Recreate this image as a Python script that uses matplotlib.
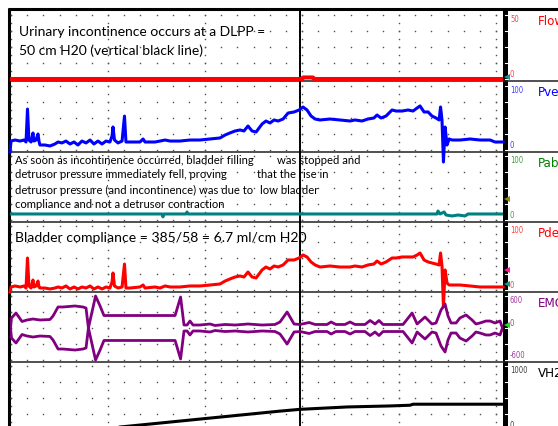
import numpy as np
import matplotlib
matplotlib.use("Agg")
import matplotlib.pyplot as plt
from matplotlib.patches import Rectangle

W, H = 558, 426

# time in seconds from start of filling study
t_leak = 178.7   # leak point (vertical black line)

flow_t = [-0.6, 180.0, 180.6, 186.8, 187.4, 304.4]
flow = [0, 0, 1.2, 1.2, 0, 0]

pres_t = [-0.6, 0.0, 2.5, 5.6, 8.0, 9.3, 10.2, 11.1, 12.4, 13.6, 14.2, 15.5, 16.7,
          17.3, 17.9, 21.0, 24.1, 27.2, 29.1, 31.5, 34.0, 36.5, 39.0, 41.4, 43.9,
          46.4, 48.9, 51.3, 53.8, 56.3, 58.8, 61.2, 62.5, 63.1, 64.0, 66.2, 68.7,
          70.2, 71.1, 73.6, 79.8, 81.7, 82.9, 89.1, 92.2, 95.3, 98.4, 104.5, 110.7,
          116.9, 123.1, 129.3, 132.4, 135.4, 138.6, 141.7, 144.1, 146.6, 149.1,
          151.6, 155.3, 157.7, 160.2, 162.7, 165.2, 168.3, 171.4, 175.1, 178.2,
          180.6, 183.1, 185.6, 188.1, 191.1, 197.3, 203.5, 209.7, 212.8, 217.1,
          220.8, 224.5, 226.4, 228.9, 232.0, 235.7, 238.2, 241.9, 245.6, 248.7,
          251.2, 253.0, 255.5, 258.0, 260.4, 262.9, 264.8, 265.7, 266.6, 267.5,
          268.5, 269.7, 271.0, 272.8, 277.8, 284.0, 290.1, 296.3, 299.4, 304.4]

pves = [-3, 14, 15.6, 14, 15.6, 12.5, 64, 15.6, 12.5, 26.6, 14, 15.6, 25,
        14, 7.8, 7.8, 6.3, 9.4, 12.5, 11, 14, 9.4, 12.5, 7.8, 14,
        11, 15.6, 9.4, 14, 9.4, 14, 12.5, 21.9, 36, 15.6, 11, 14,
        53, 12.5, 12.5, 12.5, 17.2, 12.5, 12.5, 14, 15.6, 14, 14, 15.6,
        15.6, 17.2, 18.8, 23.4, 26.6, 29.7, 31.3, 29.7, 37.5, 29.7,
        28.1, 40.6, 45.3, 42.2, 46.9, 45.3, 48.4, 57.8, 59.4, 62.5,
        67.2, 62.5, 53.1, 48.4, 46.9, 48.4, 46.9, 45.3, 46.9, 45.3,
        48.4, 50, 54.7, 50, 53.1, 62.5, 60.9, 60.9, 62.5, 60.9,
        65.6, 68.8, 59.4, 59.4, 53.1, 50, 46.9, 67.2, 46.9, -18.8,
        35.9, 7.8, 17.2, 15.6, 15.6, 17.2, 15.6, 15.6, 12.5, 12.5]

pdet = [-3, 4.7, 6.3, 4.7, 6.3, 3.1, 50, 6.3, 3.1, 15.6, 4.7, 6.3, 14,
        4.7, 3.1, 3.1, 1.6, 3.1, 4.7, 3.1, 6.3, 1.6, 4.7, 1.6, 4.7,
        3.1, 6.3, 1.6, 4.7, 1.6, 4.7, 3.1, 12.5, 26.6, 6.3, 3.1, 4.7,
        40.6, 3.1, 3.1, 4.7, 7.8, 3.1, 4.7, 3.1, 6.3, 4.7, 4.7, 6.3,
        6.3, 7.8, 9.4, 14, 17.2, 20.3, 21.9, 20.3, 28.1, 20.3,
        18.8, 31.3, 35.9, 32.8, 37.5, 35.9, 39.1, 46.9, 46.9, 50,
        54.7, 51.6, 43.8, 39.1, 35.9, 37.5, 35.9, 35.9, 37.5, 35.9,
        39.1, 40.6, 45.3, 40.6, 43.8, 50, 50, 51.6, 51.6, 51.6,
        54.7, 57.8, 46.9, 43.8, 42.2, 40.6, 39.1, 57.8, 37.5, -26.6,
        31.3, 10.9, 7.8, 7.8, 7.8, 6.3, 4.7, 4.7, 4.7, 4.7]

pabd_t = [-0.6, 93.4, 94.0, 94.6, 108.3, 108.9, 109.5, 263.5, 264.1, 265.4,
          267.9, 269.1, 272.8, 276.5, 280.9, 282.7, 304.4]
pabd = [9.4, 9.4, 5, 9.4, 9.4, 12.5, 9.4, 9.4, 14, 9.4,
        12.5, 7.8, 6.3, 7.8, 6.3, 9.4, 9.4]

# EMG envelope half-width (uV)
emg_t = [-0.3, 0.3, 3.1, 6.8, 9.9, 13.6, 17.9, 24.1, 26.0, 29.1, 32.2, 39.6,
         44.5, 46.4, 47.9, 52.3, 55.1, 57.5, 79.8, 101.5, 104.9, 107.0, 108.9,
         110.7, 112.6, 116.9, 123.1, 126.2, 132.4, 138.6, 146.6, 155.3, 163.3,
         166.4, 170.8, 175.1, 178.8, 184.4, 188.1, 195.5, 198.0, 201.0, 206.6,
         209.7, 212.8, 219.0, 222.1, 225.2, 227.6, 230.1, 242.5, 248.1, 251.2,
         256.1, 260.4, 262.9, 266.0, 268.5, 270.3, 272.2, 275.3, 277.7, 281.5,
         285.2, 287.6, 290.1, 293.8, 296.3, 299.4, 302.5, 304.0]
emg_amp = [0, 188, 281, 122, 150, 169, 150, 159, 225, 394, 394, 413,
           394, 375, 0, 600, 413, 234, 234, 234, 581, 56, 56,
           131, 56, 56, 75, 47, 66, 56, 75, 56, 66,
           113, 300, 75, 66, 103, 66, 66, 113, 66, 66,
           113, 66, 66, 141, 75, 141, 66, 66, 281, 75,
           206, 75, 94, 338, 450, 225, 94, 94, 188, 244,
           150, 75, 94, 131, 131, 94, 131, 0]

vol_t = [-0.6, 48.9, 166.4, 178.8, 207.9, 234.5, 246.8, 248.7, 304.4]
vol = [0, 0, 295, 323, 360, 376, 387, 403, 403]

panel_top = [10, 81, 152, 222, 292, 362]
panel_bot = [81, 152, 222, 292, 362, 432]
names = ["Flow", "Pves", "Pabd", "Pdet", "EMG", "VH2O"]
name_colors = ["#ff0000", "#0000ff", "#008000", "#ff0000", "#800080", "#000000"]
scale_lo = [0, 0, 0, 0, -600, 0]
scale_hi = [50, 100, 100, 100, 600, 1000]

fig = plt.figure(figsize=(W / 100, H / 100), dpi=100)
fig.patch.set_facecolor("white")

# frame drawn in pixel coordinates
frame = fig.add_axes([0, 0, 1, 1], zorder=0)
frame.set_xlim(0, W)
frame.set_ylim(H, 0)
frame.axis("off")
frame.plot([9, 9], [8, H], color="k", lw=2.2, solid_capstyle="butt")
frame.plot([8, W], [9, 9], color="k", lw=2.2, solid_capstyle="butt")
for b in panel_bot[:-1]:
    frame.plot([10, W], [b, b], color="#202020", lw=1.1)
frame.add_patch(Rectangle((503, 10), 5, H - 10, color="k", lw=0))

t0 = (10 - 11) * 60 / 97
t1 = (503 - 11) * 60 / 97
narrow = dict(family="DejaVu Sans", fontstretch="condensed")

axes = []
for i in range(6):
    top, bot = panel_top[i], panel_bot[i]
    ax = fig.add_axes([10 / W, 1 - bot / H, 493 / W, (bot - top) / H], zorder=1)
    lo, hi = scale_lo[i], scale_hi[i]
    s = 64 / (hi - lo)
    ax.set_ylim(lo - 2 / s, lo + (bot - top - 2) / s)
    ax.set_xlim(t0, t1)
    ax.axis("off")
    # dotted grid
    cols = np.arange(0, 301, 10)
    rows = np.linspace(lo, hi, 5)
    gx, gy = np.meshgrid(cols, rows)
    ax.plot(gx.ravel(), gy.ravel(), "s", ms=1.0, mew=0, color="#505050")
    mx, my = np.meshgrid(np.arange(0, 301, 60), np.linspace(lo, hi, 9))
    ax.plot(mx.ravel(), my.ravel(), "s", ms=1.0, mew=0, color="#505050")
    ax.axvline(t_leak, color="k", lw=1.4, zorder=1)

    # scale labels on the right strip
    tr = ax.get_yaxis_transform()
    xl = (510 - 10) / 493
    ax.text(xl, hi, str(hi), transform=tr, va="top", ha="left", fontsize=5.5,
            color=name_colors[i], alpha=0.75, clip_on=False, **narrow)
    ax.text(xl, lo, str(lo), transform=tr, va="bottom", ha="left", fontsize=5.5,
            color=name_colors[i], alpha=0.75, clip_on=False, **narrow)
    if lo < 0:
        ax.text(xl, 0, "0", transform=tr, va="bottom", ha="left", fontsize=5.5,
                color=name_colors[i], alpha=0.75, clip_on=False, **narrow)
    # white ticks on the strip
    for r in rows:
        ax.plot([(505 - 10) / 493, (507 - 10) / 493], [r, r], transform=tr,
                color="white", lw=0.8, clip_on=False)
    frame.text(538, top + 11.5, names[i], color=name_colors[i], fontsize=9.5,
               va="center", ha="left", **narrow)
    axes.append(ax)

ax_flow, ax_pves, ax_pabd, ax_pdet, ax_emg, ax_vol = axes

ax_flow.plot(flow_t, flow, color="#ff0000", lw=2.9, zorder=3)
ax_pves.plot(pres_t, pves, color="#0000ff", lw=2.2, zorder=3, clip_on=False)
ax_pabd.plot(pabd_t, pabd, color="#008080", lw=2.2, zorder=3)
ax_pdet.plot(pres_t, pdet, color="#ff0000", lw=2.2, zorder=3, clip_on=False)
emg_amp = np.array(emg_amp)
ax_emg.plot(emg_t, emg_amp, color="#800080", lw=2.0, zorder=3)
ax_emg.plot(emg_t, -emg_amp, color="#800080", lw=2.0, zorder=3)
ax_vol.plot(vol_t, vol, color="k", lw=2.2, zorder=3)

# zero / reference markers on the strip
def strip_marker(ax, y, color):
    ax.plot([(507 - 10) / 493], [y], marker="<", ms=5, mew=0, color=color,
            transform=ax.get_yaxis_transform(), clip_on=False, zorder=4)

strip_marker(ax_flow, 1.5, "#1a9a8a")
strip_marker(ax_pabd, 33, "#8a8a10")
strip_marker(ax_pdet, 32, "#ff1aa0")
strip_marker(ax_pdet, 9, "#1a9a8a")
strip_marker(ax_emg, 60, "#22dd22")

# annotations
txt = dict(family=["Lato", "DejaVu Sans"], color="black", va="center", ha="left")
frame.text(19, 32, "Urinary incontinence occurs at a DLPP =", fontsize=10, **txt)
frame.text(19, 51, "50 cm H20 (vertical black line)", fontsize=10, **txt)

frame.text(15, 160, "As soon as incontinence occurred, bladder filling", fontsize=8.1, **txt)
frame.text(277, 160, "was stopped and", fontsize=8.1, **txt)
frame.text(15, 175, "detrusor pressure immediately fell, proving", fontsize=8.1, **txt)
frame.text(257, 175, "that the rise in", fontsize=8.1, **txt)
frame.text(15, 190, "detrusor pressure (and incontinence) was due to", fontsize=8.1, **txt)
frame.text(260, 190, "low bladder", fontsize=8.1, **txt)
frame.text(15, 205, "compliance and not a detrusor contraction", fontsize=8.1, **txt)

frame.text(15, 238, "Bladder compliance = 385/58 = 6.7 ml/cm H20", fontsize=10.1, **txt)

fig.savefig("out.png", dpi=100)
